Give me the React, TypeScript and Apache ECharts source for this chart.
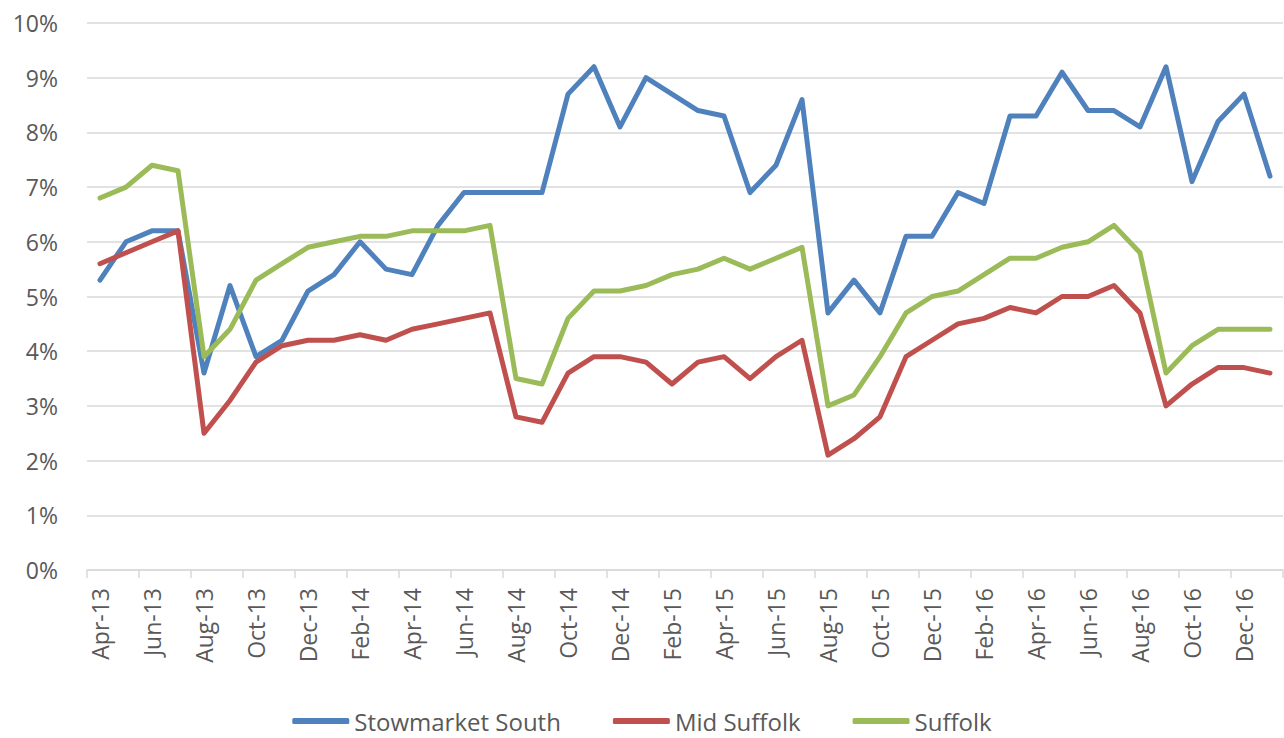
import React, { useEffect, useRef } from "react";
import * as echarts from "echarts";

const months = [
  "Apr-13", "May-13", "Jun-13", "Jul-13", "Aug-13", "Sep-13", "Oct-13", "Nov-13", "Dec-13", "Jan-14", "Feb-14", "Mar-14",
  "Apr-14", "May-14", "Jun-14", "Jul-14", "Aug-14", "Sep-14", "Oct-14", "Nov-14", "Dec-14", "Jan-15", "Feb-15", "Mar-15",
  "Apr-15", "May-15", "Jun-15", "Jul-15", "Aug-15", "Sep-15", "Oct-15", "Nov-15", "Dec-15", "Jan-16", "Feb-16", "Mar-16",
  "Apr-16", "May-16", "Jun-16", "Jul-16", "Aug-16", "Sep-16", "Oct-16", "Nov-16", "Dec-16", "Jan-17",
];

const stowmarketSouth = [
  5.3, 6.0, 6.2, 6.2, 3.6, 5.2, 3.9, 4.2, 5.1, 5.4, 6.0, 5.5, 5.4, 6.3, 6.9, 6.9, 6.9, 6.9, 8.7, 9.2, 8.1, 9.0, 8.7,
  8.4, 8.3, 6.9, 7.4, 8.6, 4.7, 5.3, 4.7, 6.1, 6.1, 6.9, 6.7, 8.3, 8.3, 9.1, 8.4, 8.4, 8.1, 9.2, 7.1, 8.2, 8.7, 7.2,
];

const midSuffolk = [
  5.6, 5.8, 6.0, 6.2, 2.5, 3.1, 3.8, 4.1, 4.2, 4.2, 4.3, 4.2, 4.4, 4.5, 4.6, 4.7, 2.8, 2.7, 3.6, 3.9, 3.9, 3.8, 3.4,
  3.8, 3.9, 3.5, 3.9, 4.2, 2.1, 2.4, 2.8, 3.9, 4.2, 4.5, 4.6, 4.8, 4.7, 5.0, 5.0, 5.2, 4.7, 3.0, 3.4, 3.7, 3.7, 3.6,
];

const suffolk = [
  6.8, 7.0, 7.4, 7.3, 3.9, 4.4, 5.3, 5.6, 5.9, 6.0, 6.1, 6.1, 6.2, 6.2, 6.2, 6.3, 3.5, 3.4, 4.6, 5.1, 5.1, 5.2, 5.4,
  5.5, 5.7, 5.5, 5.7, 5.9, 3.0, 3.2, 3.9, 4.7, 5.0, 5.1, 5.4, 5.7, 5.7, 5.9, 6.0, 6.3, 5.8, 3.6, 4.1, 4.4, 4.4, 4.4,
];

const seriesNames = ["Stowmarket South", "Mid Suffolk", "Suffolk"];
const seriesColors = ["#4f81bd", "#c0504d", "#9bbb59"];
const seriesData = [stowmarketSouth, midSuffolk, suffolk];

const FONT = "'Open Sans', sans-serif";
const TEXT = "#595959";
const GRID = "#d9d9d9";

export default function App() {
  const ref = useRef<HTMLDivElement>(null);

  useEffect(() => {
    document.body.style.margin = "0";
    if (!ref.current) return;
    const chart = echarts.init(ref.current, undefined, { renderer: "svg" });
    chart.setOption({
      animation: false,
      backgroundColor: "#ffffff",
      textStyle: { fontFamily: FONT },
      grid: { left: 87, right: 1, top: 23, bottom: 168, containLabel: false },
      legend: {
        bottom: 0,
        left: "center",
        itemWidth: 57,
        itemHeight: 6,
        itemGap: 52,
        icon: "roundRect",
        textStyle: { fontFamily: FONT, fontSize: 24, color: TEXT },
        data: seriesNames,
      },
      xAxis: {
        type: "category",
        data: months,
        boundaryGap: true,
        axisLine: { show: true, lineStyle: { color: GRID, width: 1.5 } },
        axisTick: { show: true, interval: 1, length: 8, lineStyle: { color: GRID, width: 1.5 } },
        axisLabel: {
          interval: 1,
          rotate: 90,
          margin: 18,
          fontFamily: FONT,
          fontSize: 23,
          color: TEXT,
        },
        splitLine: { show: false },
      },
      yAxis: {
        type: "value",
        min: 0,
        max: 10,
        interval: 1,
        axisLine: { show: false },
        axisTick: { show: false },
        axisLabel: {
          formatter: (v: number) => `${v}%`,
          margin: 29,
          fontFamily: FONT,
          fontSize: 23,
          color: TEXT,
        },
        splitLine: { show: true, lineStyle: { color: GRID, width: 1.5 } },
      },
      series: seriesNames.map((name, i) => ({
        name,
        type: "line",
        data: seriesData[i],
        showSymbol: false,
        symbol: "none",
        color: seriesColors[i],
        lineStyle: { color: seriesColors[i], width: 5, cap: "round", join: "round" },
        itemStyle: { color: seriesColors[i] },
      })),
    });
    return () => chart.dispose();
  }, []);

  return <div ref={ref} style={{ width: 1284, height: 738 }} />;
}
